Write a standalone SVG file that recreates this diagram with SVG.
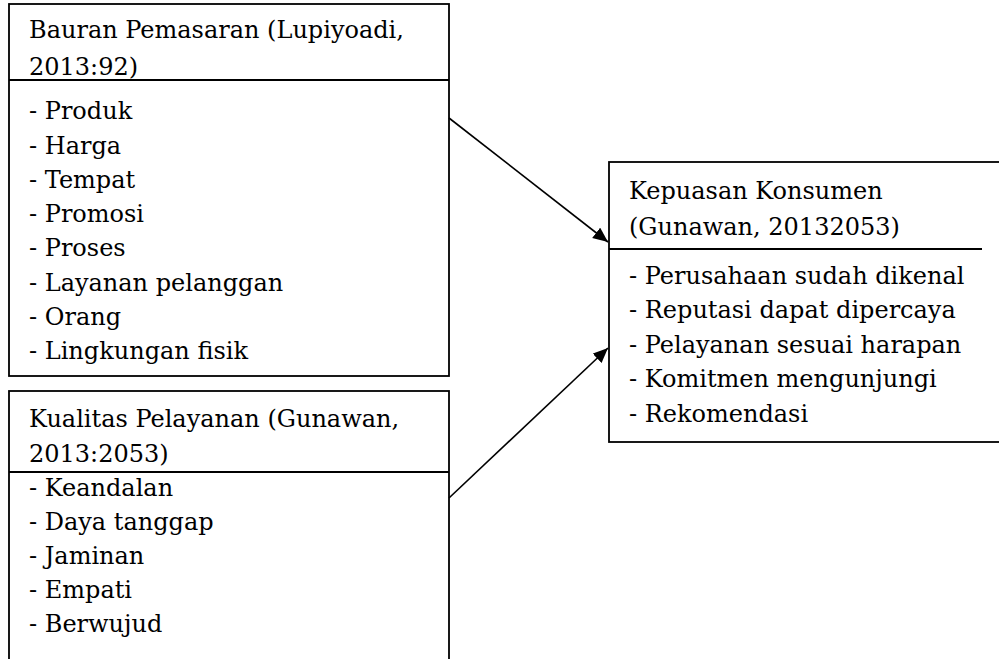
<svg xmlns="http://www.w3.org/2000/svg" width="999" height="659" viewBox="0 0 999 659">
<defs>
<style>
.box{fill:#fff;stroke:#000;stroke-width:1.8}
.div{stroke:#000;stroke-width:1.8;fill:none}
.t{font-family:"DejaVu Serif","Liberation Serif",serif;font-size:24px;fill:#000}
.conn{stroke:#000;stroke-width:1.6;fill:none}
</style>
<marker id="ah" markerUnits="userSpaceOnUse" markerWidth="16" markerHeight="14" refX="15" refY="6.5" orient="auto">
<path d="M0,0 L15,6.5 L0,13 Z" fill="#000"/>
</marker>
</defs>
<rect width="999" height="659" fill="#fff"/>
<g id="bauran">
<rect class="box" x="9" y="4" width="440" height="372"/>
<line class="div" x1="9" y1="80" x2="449" y2="80"/>
<text class="t" x="29" y="38">Bauran Pemasaran (Lupiyoadi,</text>
<text class="t" x="29" y="75">2013:92)</text>
<text class="t" x="29" y="119">- Produk</text>
<text class="t" x="29" y="154">- Harga</text>
<text class="t" x="29" y="188">- Tempat</text>
<text class="t" x="29" y="222">- Promosi</text>
<text class="t" x="29" y="256">- Proses</text>
<text class="t" x="29" y="291">- Layanan pelanggan</text>
<text class="t" x="29" y="325">- Orang</text>
<text class="t" x="29" y="359">- Lingkungan fisik</text>
</g>
<g id="kualitas">
<rect class="box" x="9" y="391" width="440" height="290"/>
<line class="div" x1="9" y1="472" x2="449" y2="472"/>
<text class="t" x="29" y="427">Kualitas Pelayanan (Gunawan,</text>
<text class="t" x="29" y="462">2013:2053)</text>
<text class="t" x="29" y="496">- Keandalan</text>
<text class="t" x="29" y="530">- Daya tanggap</text>
<text class="t" x="29" y="564">- Jaminan</text>
<text class="t" x="29" y="598">- Empati</text>
<text class="t" x="29" y="632">- Berwujud</text>
</g>
<g id="kepuasan">
<rect class="box" x="609" y="162" width="400" height="280"/>
<line class="div" x1="609" y1="249" x2="982" y2="249"/>
<text class="t" x="629" y="199">Kepuasan Konsumen</text>
<text class="t" x="629" y="235">(Gunawan, 20132053)</text>
<text class="t" x="629" y="284">- Perusahaan sudah dikenal</text>
<text class="t" x="629" y="318">- Reputasi dapat dipercaya</text>
<text class="t" x="629" y="353">- Pelayanan sesuai harapan</text>
<text class="t" x="629" y="387">- Komitmen mengunjungi</text>
<text class="t" x="629" y="422">- Rekomendasi</text>
</g>
<g id="connectors">
<line class="conn" x1="449" y1="118" x2="608" y2="242" marker-end="url(#ah)"/>
<line class="conn" x1="449" y1="498" x2="608" y2="348" marker-end="url(#ah)"/>
</g>
</svg>
